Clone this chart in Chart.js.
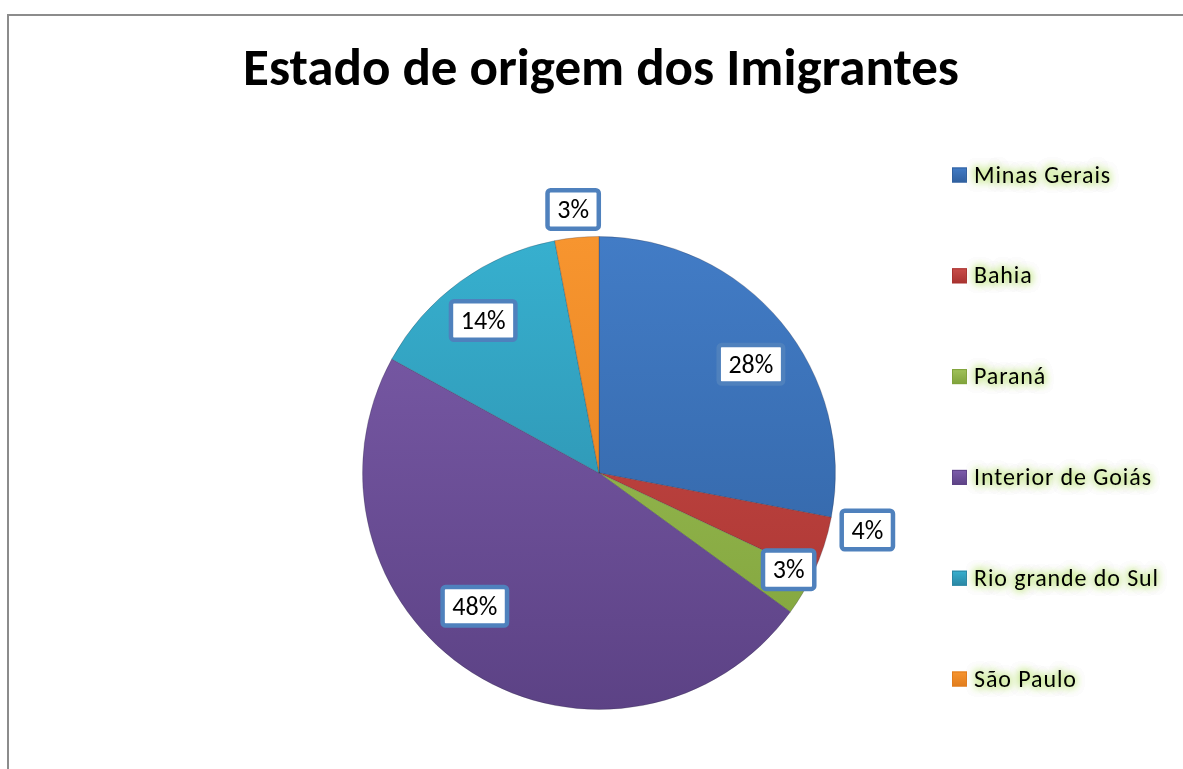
<!DOCTYPE html>
<html>
<head>
<meta charset="utf-8">
<script src="https://cdn.jsdelivr.net/npm/chart.js@4.4.1/dist/chart.umd.min.js"></script>
<style>
  html, body { margin: 0; padding: 0; background: #fff; }
  #wrap { width: 1183px; height: 769px; }
</style>
</head>
<body>
<div id="wrap"><canvas id="origem"></canvas></div>
<script>
// data
var estados = ['Minas Gerais', 'Bahia', 'Paraná', 'Interior de Goiás', 'Rio grande do Sul', 'São Paulo'];
var percentuais = [28, 4, 3, 48, 14, 3];
var titulo = 'Estado de origem dos Imigrantes';

// light (top) / dark (bottom) tone of each slice
var corClara = ['#427cc6', '#c94e4a', '#a0c25a', '#7d5dab', '#37b0cf', '#f7952f'];
var corEscura = ['#30609f', '#a8322f', '#7fa23a', '#5c4285', '#2a86a3', '#e07c1c'];

var fonte = 'Carlito, Calibri, "Liberation Sans", sans-serif';

function gradiente(ctx, i) {
    var chart = ctx.chart;
    var area = chart.chartArea;
    if (!area) return corClara[i];
    var g = chart.ctx.createLinearGradient(0, area.top, 0, area.bottom);
    g.addColorStop(0, corClara[i]);
    g.addColorStop(1, corEscura[i]);
    return g;
}

// frame and title
var moldura = {
    id: 'moldura',
    beforeDraw: function (chart) {
        var c = chart.ctx;
        c.save();
        c.fillStyle = '#fff';
        c.fillRect(0, 0, chart.width, chart.height);
        c.strokeStyle = '#8c8c8c';
        c.lineWidth = 2;
        c.strokeRect(8, 15, chart.width + 20, chart.height + 20);
        c.font = 'bold 53px ' + fonte;
        c.fillStyle = '#000';
        c.textAlign = 'center';
        c.textBaseline = 'alphabetic';
        c.fillText(titulo, 601, 85);
        c.restore();
    }
};

// boxed percentage labels
var rotulos = {
    id: 'rotulos',
    afterDatasetsDraw: function (chart, args, opts) {
        var c = chart.ctx;
        var meta = chart.getDatasetMeta(0);
        c.save();
        c.font = '26px ' + fonte;
        c.textAlign = 'center';
        c.textBaseline = 'alphabetic';
        meta.data.forEach(function (arc, i) {
            var p = arc.getProps(['x', 'y', 'startAngle', 'endAngle', 'outerRadius'], true);
            var pos = opts.pos[i];
            var ang = (p.startAngle + p.endAngle) / 2 + pos[1] * Math.PI / 180;
            var x = p.x + Math.cos(ang) * p.outerRadius * pos[0];
            var y = p.y + Math.sin(ang) * p.outerRadius * pos[0];
            var txt = percentuais[i] + '%';
            var lw = 4.5;
            var w = c.measureText(txt).width + 24 - lw;
            var h = 43 - lw;
            c.beginPath();
            c.roundRect(x - w / 2, y - h / 2, w, h, 3);
            c.fillStyle = '#fff';
            c.fill();
            c.lineWidth = lw;
            c.strokeStyle = '#4f81bd';
            c.stroke();
            c.fillStyle = '#000';
            c.fillText(txt, x, y + 8.5);
        });
        c.restore();
    }
};

// legend on the right with the soft green glow
var legenda = {
    id: 'legenda',
    afterDraw: function (chart) {
        var c = chart.ctx;
        c.save();
        c.font = '24px ' + fonte;
        c.letterSpacing = '0.9px';
        c.textBaseline = 'alphabetic';
        estados.forEach(function (nome, i) {
            var base = 182.5 + i * 100.8;
            var g = c.createLinearGradient(0, base - 15, 0, base);
            g.addColorStop(0, corClara[i]);
            g.addColorStop(1, corEscura[i]);
            c.fillStyle = g;
            c.fillRect(952, base - 15, 15, 15);
            c.strokeStyle = corEscura[i];
            c.lineWidth = 1;
            c.strokeRect(952.5, base - 14.5, 14, 14);
            // glow only: text drawn off-canvas, its shadow lands in place
            c.shadowColor = 'rgba(195, 232, 130, 1)';
            c.shadowBlur = 9;
            c.shadowOffsetX = 5000;
            c.fillStyle = '#000';
            for (var k = 0; k < 3; k++) c.fillText(nome, 974 - 5000, base);
            c.shadowBlur = 0;
            c.shadowOffsetX = 0;
            c.shadowColor = 'transparent';
            c.fillText(nome, 974, base);
        });
        c.restore();
    }
};

var ctx = document.getElementById('origem').getContext('2d');
var chart = new Chart(ctx, {
    type: 'pie',
    data: {
        labels: estados,
        datasets: [{
            data: percentuais,
            backgroundColor: function (c) { return gradiente(c, c.dataIndex); },
            borderColor: 'rgba(40,40,60,0.25)',
            borderWidth: 1
        }]
    },
    options: {
        responsive: true,
        maintainAspectRatio: false,
        animation: false,
        layout: { padding: { left: 362, right: 347, top: 236, bottom: 59 } },
        plugins: {
            legend: { display: false },
            tooltip: { enabled: false },
            title: { display: false },
            rotulos: {
                // [distance as share of radius, angle shift in degrees]
                pos: [[0.79, 4], [1.16, -6], [0.90, -3.6], [0.77, 10.6], [0.81, -1.2], [1.12, -0.2]]
            }
        }
    },
    plugins: [moldura, rotulos, legenda]
});
</script>
</body>
</html>
